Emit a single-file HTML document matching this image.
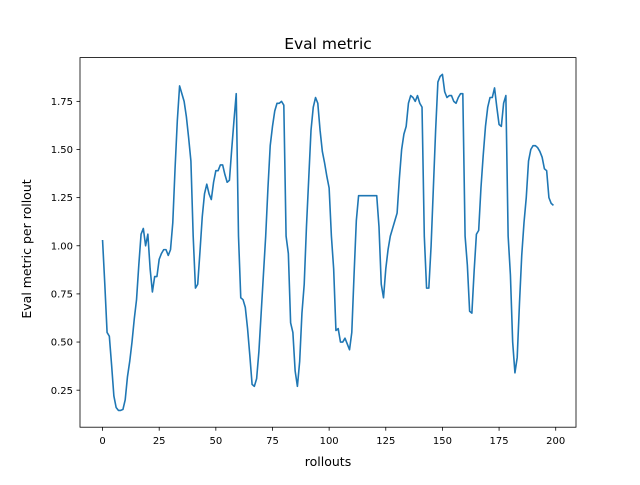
<!DOCTYPE html>
<html><head><meta charset="utf-8"><style>
body{margin:0;background:#fff}
svg text{font-family:"DejaVu Sans","Liberation Sans",sans-serif;fill:#000}
</style></head><body>
<svg id="chart" width="640" height="480" xmlns="http://www.w3.org/2000/svg">
<rect width="640" height="480" fill="#fff"/>
<text x="328" y="49" font-size="15.5" text-anchor="middle">Eval metric</text>
<g id="xt"></g><g id="yt"></g>
<path id="line" fill="none" stroke="#1f77b4" stroke-width="1.6" stroke-linejoin="round"/>
<rect x="80" y="57.6" width="496" height="369.6" fill="none" stroke="#000" stroke-width="0.8"/>
<text x="328" y="466" font-size="12.5" text-anchor="middle">rollouts</text>
<text x="0" y="0" font-size="12.5" text-anchor="middle" transform="translate(31,249) rotate(-90)">Eval metric per rollout</text>
</svg>
<script>
const values=[1.03,0.8,0.55,0.53,0.38,0.22,0.16,0.145,0.145,0.15,0.2,0.32,0.4,0.5,0.62,0.72,0.9,1.06,1.09,1.0,
1.06,0.88,0.76,0.84,0.84,0.93,0.96,0.98,0.98,0.95,0.98,1.12,1.4,1.65,1.83,1.79,1.75,1.67,1.56,1.44,
1.05,0.78,0.8,0.97,1.15,1.27,1.32,1.27,1.24,1.33,1.39,1.39,1.42,1.42,1.37,1.33,1.34,1.5,1.65,1.79,
1.05,0.73,0.72,0.68,0.57,0.43,0.28,0.27,0.31,0.45,0.65,0.85,1.05,1.3,1.52,1.62,1.7,1.74,1.74,1.75,
1.73,1.05,0.96,0.6,0.55,0.35,0.27,0.4,0.65,0.8,1.1,1.35,1.6,1.72,1.77,1.74,1.6,1.49,1.43,1.36,
1.3,1.05,0.88,0.56,0.57,0.5,0.5,0.52,0.49,0.46,0.55,0.85,1.13,1.26,1.26,1.26,1.26,1.26,1.26,1.26,
1.26,1.26,1.1,0.8,0.73,0.88,0.98,1.05,1.09,1.13,1.17,1.35,1.5,1.58,1.62,1.74,1.78,1.77,1.75,1.78,
1.74,1.72,1.05,0.78,0.78,1.0,1.3,1.6,1.85,1.88,1.89,1.8,1.77,1.78,1.78,1.75,1.74,1.77,1.79,1.79,
1.05,0.9,0.66,0.65,0.87,1.06,1.08,1.3,1.47,1.62,1.72,1.77,1.77,1.82,1.72,1.63,1.62,1.74,1.78,1.05,
0.85,0.5,0.34,0.42,0.7,0.95,1.12,1.25,1.44,1.5,1.52,1.52,1.51,1.49,1.46,1.4,1.39,1.25,1.22,1.21];
const xTicks=[0,25,50,75,100,125,150,175,200];
const yTicks=[0.25,0.5,0.75,1.0,1.25,1.5,1.75];
const yLabels=["0.25","0.50","0.75","1.00","1.25","1.50","1.75"];
const L=80,R=576,T=57.6,B=427.2;
const n=values.length;
const xmin=-0.05*(n-1),xmax=(n-1)*1.05;
const vmin=Math.min(...values),vmax=Math.max(...values),pad=(vmax-vmin)*0.05;
const ymin=vmin-pad,ymax=vmax+pad;
const sx=v=>L+(v-xmin)/(xmax-xmin)*(R-L);
const sy=v=>B-(v-ymin)/(ymax-ymin)*(B-T);
const NS="http://www.w3.org/2000/svg";
document.getElementById('line').setAttribute('d',values.map((v,i)=>(i?'L':'M')+sx(i).toFixed(2)+','+sy(v).toFixed(2)).join(''));
const xt=document.getElementById('xt'),yt=document.getElementById('yt');
xTicks.forEach(t=>{const x=sx(t);
const l=document.createElementNS(NS,'line');l.setAttribute('x1',x);l.setAttribute('x2',x);l.setAttribute('y1',B);l.setAttribute('y2',B+3.5);l.setAttribute('stroke','#000');l.setAttribute('stroke-width','0.8');


xt.appendChild(l);
const s=document.createElementNS(NS,'text');s.setAttribute('x',x);s.setAttribute('y',B+17);s.setAttribute('font-size','10');s.setAttribute('text-anchor','middle');s.textContent=t;


xt.appendChild(s);});
yTicks.forEach((t,i)=>{const y=sy(t);
const l=document.createElementNS(NS,'line');l.setAttribute('x1',L-3.5);l.setAttribute('x2',L);l.setAttribute('y1',y);l.setAttribute('y2',y);l.setAttribute('stroke','#000');l.setAttribute('stroke-width','0.8');


yt.appendChild(l);
const s=document.createElementNS(NS,'text');s.setAttribute('x',L-7);s.setAttribute('y',y+3.6);s.setAttribute('font-size','10');s.setAttribute('text-anchor','end');s.textContent=yLabels[i];


yt.appendChild(s);});
</script>
</body></html>
